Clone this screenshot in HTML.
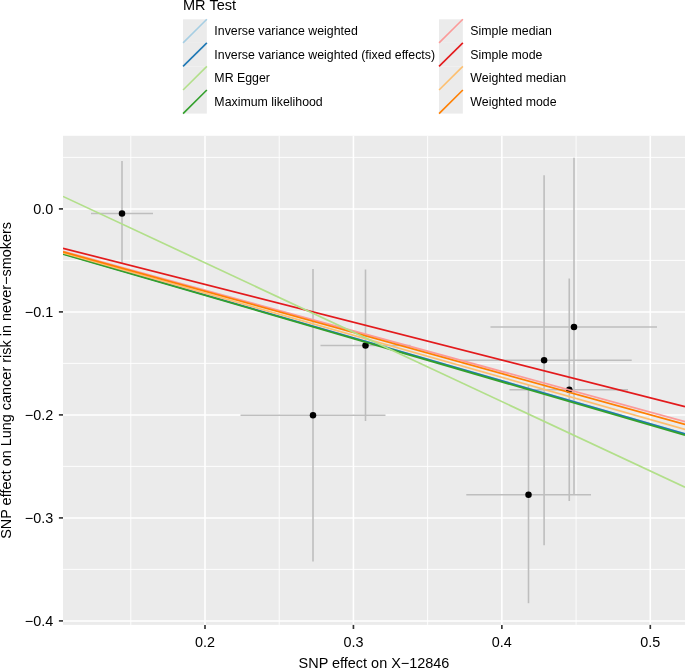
<!DOCTYPE html>
<html><head><meta charset="utf-8"><title>MR scatter plot</title>
<style>html,body{margin:0;padding:0;background:#fff;}svg{display:block;will-change:transform;}text{font-family:"Liberation Sans",Arial,Helvetica,sans-serif;fill:#000;}.tk{font-size:14.4px;fill:#000;}.lg{font-size:12.35px;}.tt{font-size:14.45px;}.lt{font-size:14.55px;}</style></head><body>
<svg width="685" height="669" viewBox="0 0 685 669">
<rect width="685" height="669" fill="#fff"/>
<rect x="63.0" y="135.8" width="622.0" height="489.09999999999997" fill="#EBEBEB"/>
<clipPath id="cp"><rect x="63.0" y="135.8" width="622.0" height="489.09999999999997"/></clipPath>
<g clip-path="url(#cp)">
<line x1="130.78" x2="130.78" y1="135.8" y2="624.9" stroke="#fff" stroke-width="0.9"/>
<line x1="279.21" x2="279.21" y1="135.8" y2="624.9" stroke="#fff" stroke-width="0.9"/>
<line x1="427.64" x2="427.64" y1="135.8" y2="624.9" stroke="#fff" stroke-width="0.9"/>
<line x1="576.08" x2="576.08" y1="135.8" y2="624.9" stroke="#fff" stroke-width="0.9"/>
<line y1="157.40" y2="157.40" x1="63.0" x2="685.0" stroke="#fff" stroke-width="0.9"/>
<line y1="260.40" y2="260.40" x1="63.0" x2="685.0" stroke="#fff" stroke-width="0.9"/>
<line y1="363.40" y2="363.40" x1="63.0" x2="685.0" stroke="#fff" stroke-width="0.9"/>
<line y1="466.40" y2="466.40" x1="63.0" x2="685.0" stroke="#fff" stroke-width="0.9"/>
<line y1="569.40" y2="569.40" x1="63.0" x2="685.0" stroke="#fff" stroke-width="0.9"/>
<line x1="205.00" x2="205.00" y1="135.8" y2="624.9" stroke="#fff" stroke-width="1.55"/>
<line x1="353.43" x2="353.43" y1="135.8" y2="624.9" stroke="#fff" stroke-width="1.55"/>
<line x1="501.86" x2="501.86" y1="135.8" y2="624.9" stroke="#fff" stroke-width="1.55"/>
<line x1="650.29" x2="650.29" y1="135.8" y2="624.9" stroke="#fff" stroke-width="1.55"/>
<line y1="208.90" y2="208.90" x1="63.0" x2="685.0" stroke="#fff" stroke-width="1.55"/>
<line y1="311.90" y2="311.90" x1="63.0" x2="685.0" stroke="#fff" stroke-width="1.55"/>
<line y1="414.90" y2="414.90" x1="63.0" x2="685.0" stroke="#fff" stroke-width="1.55"/>
<line y1="517.90" y2="517.90" x1="63.0" x2="685.0" stroke="#fff" stroke-width="1.55"/>
<line y1="620.90" y2="620.90" x1="63.0" x2="685.0" stroke="#fff" stroke-width="1.55"/>
<line x1="122" x2="122" y1="161" y2="264" stroke="#BEBEBE" stroke-width="1.6"/>
<line x1="313.0" x2="313.0" y1="269" y2="561.5" stroke="#BEBEBE" stroke-width="1.6"/>
<line x1="365.5" x2="365.5" y1="269.5" y2="421" stroke="#BEBEBE" stroke-width="1.6"/>
<line x1="574.0" x2="574.0" y1="157.8" y2="494.7" stroke="#BEBEBE" stroke-width="1.6"/>
<line x1="544.1" x2="544.1" y1="175.3" y2="545.3" stroke="#BEBEBE" stroke-width="1.6"/>
<line x1="569.25" x2="569.25" y1="278.5" y2="501" stroke="#BEBEBE" stroke-width="1.6"/>
<line x1="528.5" x2="528.5" y1="385" y2="603.2" stroke="#BEBEBE" stroke-width="1.6"/>
<line x1="91" x2="153.0" y1="213.5" y2="213.5" stroke="#BEBEBE" stroke-width="1.6"/>
<line x1="240.5" x2="385.5" y1="415.2" y2="415.2" stroke="#BEBEBE" stroke-width="1.6"/>
<line x1="320.5" x2="410.5" y1="345.5" y2="345.5" stroke="#BEBEBE" stroke-width="1.6"/>
<line x1="490.5" x2="657" y1="327.0" y2="327.0" stroke="#BEBEBE" stroke-width="1.6"/>
<line x1="459.5" x2="631.7" y1="360.2" y2="360.2" stroke="#BEBEBE" stroke-width="1.6"/>
<line x1="509.5" x2="628" y1="389.8" y2="389.8" stroke="#BEBEBE" stroke-width="1.6"/>
<line x1="466.3" x2="591" y1="494.7" y2="494.7" stroke="#BEBEBE" stroke-width="1.6"/>
<circle cx="122" cy="213.5" r="3.25" fill="#000"/>
<circle cx="313.0" cy="415.2" r="3.25" fill="#000"/>
<circle cx="365.5" cy="345.5" r="3.25" fill="#000"/>
<circle cx="574.0" cy="327.0" r="3.25" fill="#000"/>
<circle cx="544.1" cy="360.2" r="3.25" fill="#000"/>
<circle cx="569.25" cy="389.8" r="3.25" fill="#000"/>
<circle cx="528.5" cy="494.7" r="3.25" fill="#000"/>
<line x1="63" y1="253.72" x2="685" y2="433.90" stroke="#A6CEE3" stroke-width="1.7"/>
<line x1="63" y1="253.72" x2="685" y2="433.90" stroke="#1F78B4" stroke-width="1.7"/>
<line x1="63" y1="253.99" x2="685" y2="435.25" stroke="#33A02C" stroke-width="1.7"/>
<line x1="63" y1="251.29" x2="685" y2="421.70" stroke="#FB9A99" stroke-width="1.7"/>
<line x1="63" y1="248.28" x2="685" y2="406.60" stroke="#E31A1C" stroke-width="1.7"/>
<line x1="63" y1="252.82" x2="685" y2="429.40" stroke="#FDBF6F" stroke-width="1.7"/>
<line x1="63" y1="251.85" x2="685" y2="424.50" stroke="#FF7F00" stroke-width="1.7"/>
<line x1="63" y1="196.40" x2="685" y2="487.20" stroke="#B2DF8A" stroke-width="1.7"/>
</g>
<line x1="58.9" x2="63" y1="208.90" y2="208.90" stroke="#333" stroke-width="1.65"/>
<text class="tk" x="53.2" y="214.00" text-anchor="end">0.0</text>
<line x1="58.9" x2="63" y1="311.90" y2="311.90" stroke="#333" stroke-width="1.65"/>
<text class="tk" x="53.2" y="317.00" text-anchor="end">−0.1</text>
<line x1="58.9" x2="63" y1="414.90" y2="414.90" stroke="#333" stroke-width="1.65"/>
<text class="tk" x="53.2" y="420.00" text-anchor="end">−0.2</text>
<line x1="58.9" x2="63" y1="517.90" y2="517.90" stroke="#333" stroke-width="1.65"/>
<text class="tk" x="53.2" y="523.00" text-anchor="end">−0.3</text>
<line x1="58.9" x2="63" y1="620.90" y2="620.90" stroke="#333" stroke-width="1.65"/>
<text class="tk" x="53.2" y="626.00" text-anchor="end">−0.4</text>
<line x1="205.00" x2="205.00" y1="624.9" y2="629.0" stroke="#333" stroke-width="1.65"/>
<text class="tk" x="205.00" y="646.9" text-anchor="middle">0.2</text>
<line x1="353.43" x2="353.43" y1="624.9" y2="629.0" stroke="#333" stroke-width="1.65"/>
<text class="tk" x="353.43" y="646.9" text-anchor="middle">0.3</text>
<line x1="501.86" x2="501.86" y1="624.9" y2="629.0" stroke="#333" stroke-width="1.65"/>
<text class="tk" x="501.86" y="646.9" text-anchor="middle">0.4</text>
<line x1="650.29" x2="650.29" y1="624.9" y2="629.0" stroke="#333" stroke-width="1.65"/>
<text class="tk" x="650.29" y="646.9" text-anchor="middle">0.5</text>
<text class="tt" x="374.0" y="667.8" text-anchor="middle">SNP effect on X−12846</text>
<text class="tt" transform="translate(11.3,380.4) rotate(-90)" text-anchor="middle">SNP effect on Lung cancer risk in never−smokers</text>
<text class="lt" x="183" y="10.0">MR Test</text>
<rect x="183.05" y="19.30" width="23.8" height="23.57" fill="#EBEBEB"/>
<rect x="183.05" y="42.87" width="23.8" height="23.57" fill="#EBEBEB"/>
<rect x="183.05" y="66.44" width="23.8" height="23.57" fill="#EBEBEB"/>
<rect x="183.05" y="90.01" width="23.8" height="23.57" fill="#EBEBEB"/>
<rect x="439.05" y="19.30" width="23.8" height="23.57" fill="#EBEBEB"/>
<rect x="439.05" y="42.87" width="23.8" height="23.57" fill="#EBEBEB"/>
<rect x="439.05" y="66.44" width="23.8" height="23.57" fill="#EBEBEB"/>
<rect x="439.05" y="90.01" width="23.8" height="23.57" fill="#EBEBEB"/>
<line x1="183.05" y1="42.87" x2="206.85000000000002" y2="19.30" stroke="#A6CEE3" stroke-width="1.6"/>
<text class="lg" x="214.35" y="35.29">Inverse variance weighted</text>
<line x1="183.05" y1="66.44" x2="206.85000000000002" y2="42.87" stroke="#1F78B4" stroke-width="1.6"/>
<text class="lg" x="214.35" y="58.86">Inverse variance weighted (fixed effects)</text>
<line x1="183.05" y1="90.01" x2="206.85000000000002" y2="66.44" stroke="#B2DF8A" stroke-width="1.6"/>
<text class="lg" x="214.35" y="82.42">MR Egger</text>
<line x1="183.05" y1="113.58" x2="206.85000000000002" y2="90.01" stroke="#33A02C" stroke-width="1.6"/>
<text class="lg" x="214.35" y="106.00">Maximum likelihood</text>
<line x1="439.05" y1="42.87" x2="462.85" y2="19.30" stroke="#FB9A99" stroke-width="1.6"/>
<text class="lg" x="470.35" y="35.29">Simple median</text>
<line x1="439.05" y1="66.44" x2="462.85" y2="42.87" stroke="#E31A1C" stroke-width="1.6"/>
<text class="lg" x="470.35" y="58.86">Simple mode</text>
<line x1="439.05" y1="90.01" x2="462.85" y2="66.44" stroke="#FDBF6F" stroke-width="1.6"/>
<text class="lg" x="470.35" y="82.42">Weighted median</text>
<line x1="439.05" y1="113.58" x2="462.85" y2="90.01" stroke="#FF7F00" stroke-width="1.6"/>
<text class="lg" x="470.35" y="106.00">Weighted mode</text>
</svg></body></html>
